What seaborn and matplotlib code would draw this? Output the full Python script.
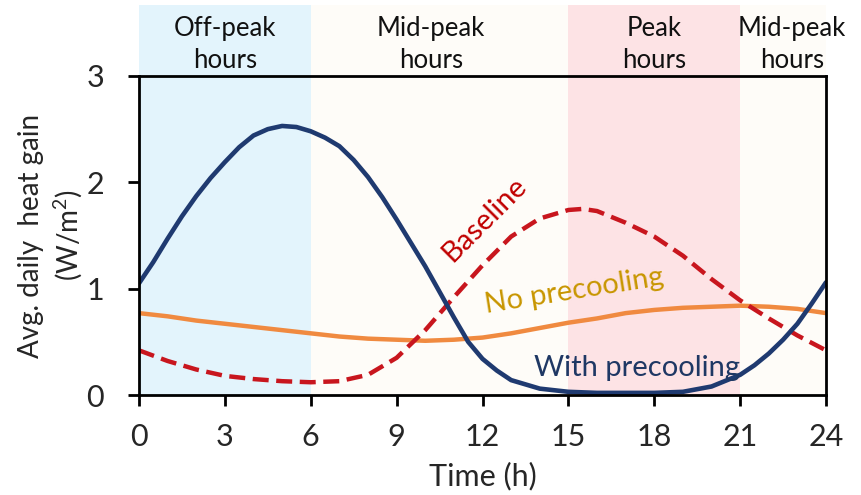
import matplotlib
matplotlib.use("Agg")
import matplotlib.pyplot as plt
import seaborn as sns
import pandas as pd

# Average heat gain (W/m2) over the day for three operating cases
precool_hours = [0, 0.5, 1, 1.5, 2, 2.5, 3, 3.5, 4, 4.5, 5, 5.5, 6, 6.5, 7, 7.5, 8, 8.5, 9, 9.5,
                 10, 10.5, 11, 11.5, 12, 12.5, 13, 14, 15, 16, 17, 18, 19, 20, 21, 21.5, 22,
                 22.5, 23, 23.5, 24]
with_precooling = [1.05, 1.25, 1.47, 1.68, 1.87, 2.04, 2.19, 2.33, 2.44, 2.50, 2.53, 2.52, 2.48,
                   2.42, 2.34, 2.21, 2.05, 1.86, 1.65, 1.43, 1.21, 0.97, 0.73, 0.50, 0.34, 0.23,
                   0.14, 0.06, 0.03, 0.02, 0.02, 0.02, 0.03, 0.08, 0.19, 0.28, 0.39, 0.52, 0.67,
                   0.86, 1.06]

baseline_hours = [0, 1, 2, 3, 4, 5, 6, 7, 8, 9, 10, 11, 12, 13, 14, 15, 15.5, 16, 17, 18, 19,
                  20, 21, 22, 23, 24]
baseline = [0.42, 0.32, 0.24, 0.18, 0.15, 0.13, 0.12, 0.13, 0.19, 0.35, 0.61, 0.92, 1.22, 1.49,
            1.66, 1.74, 1.75, 1.73, 1.62, 1.49, 1.31, 1.09, 0.89, 0.72, 0.56, 0.42]

nopre_hours = list(range(25))
no_precooling = [0.77, 0.74, 0.70, 0.67, 0.64, 0.61, 0.58, 0.55, 0.53, 0.52, 0.51, 0.52, 0.54,
                 0.58, 0.63, 0.68, 0.72, 0.77, 0.80, 0.82, 0.83, 0.84, 0.83, 0.81, 0.77]

# Tariff periods: (start, end, label)
periods = [(0, 6, "Off-peak\nhours"), (6, 15, "Mid-peak\nhours"),
           (15, 21, "Peak\nhours"), (21, 24, "Mid-peak\nhours")]
period_label_x = [3, 10.2, 18, 22.8]
period_colors = ["#E3F4FC", "#FEFCF8", "#FDE3E5", "#FEFCF8"]

x_ticks = [0, 3, 6, 9, 12, 15, 18, 21, 24]
y_ticks = [0, 1, 2, 3]

sns.set_style("ticks")
plt.rcParams["font.family"] = ["Lato", "DejaVu Sans"]
plt.rcParams["mathtext.fontset"] = "custom"
plt.rcParams["mathtext.rm"] = "Lato"

fig = plt.figure(figsize=(8.61, 4.95), dpi=100)
ax = fig.add_axes([0.1614, 0.202, 0.798, 0.6445])

# shaded tariff bands, extending above the plotting area
top_frac = 1.2226
for (s, e, _), c in zip(periods, period_colors):
    ax.axvspan(s, e, ymin=0, ymax=top_frac, color=c, clip_on=False, zorder=0, lw=0)
for (s, e, lab), lx in zip(periods, period_label_x):
    ax.text(lx, 3.30, lab, ha="center", va="center", fontsize=18.5,
            linespacing=1.35, color="#111111")

df = pd.concat([
    pd.DataFrame({"Time (h)": nopre_hours, "gain": no_precooling, "case": "No precooling"}),
    pd.DataFrame({"Time (h)": baseline_hours, "gain": baseline, "case": "Baseline"}),
    pd.DataFrame({"Time (h)": precool_hours, "gain": with_precooling, "case": "With precooling"}),
], ignore_index=True)

colors = {"No precooling": "#F08A40", "Baseline": "#C8161E", "With precooling": "#1F3A70"}
widths = {"No precooling": 3.2, "Baseline": 3.2, "With precooling": 3.3}
for z, case in enumerate(["No precooling", "Baseline", "With precooling"]):
    sns.lineplot(data=df[df.case == case], x="Time (h)", y="gain", color=colors[case],
                 lw=widths[case], ax=ax, zorder=3 + z)
    ln = ax.lines[-1]
    ln.set_solid_joinstyle("round")
    ln.set_solid_capstyle("round")
    if case == "Baseline":
        ln.set_linestyle((0, (3.6, 1.7)))
        ln.set_dash_capstyle("butt")

ax.text(12.09, 1.65, "Baseline", color="#C00000", fontsize=21, rotation=45,
        rotation_mode="anchor", ha="center", va="center", zorder=6)
ax.text(15.2, 0.98, "No precooling", color="#C89600", fontsize=21, rotation=9,
        rotation_mode="anchor", ha="center", va="center", zorder=6)
ax.text(17.4, 0.25, "With precooling", color="#1F3864", fontsize=21,
        ha="center", va="center", zorder=6)

ax.set_xlim(0, 24)
ax.set_ylim(0, 3)
ax.set_xticks(x_ticks)
ax.set_yticks(y_ticks)
ax.set_facecolor("none")
ax.tick_params(axis="both", direction="out", length=8, width=2, labelsize=22,
               color="black")
ax.tick_params(axis="x", pad=12)
ax.tick_params(axis="y", pad=17)
for sp in ax.spines.values():
    sp.set_visible(True)
    sp.set_linewidth(2)
    sp.set_color("black")
    sp.set_zorder(7)
ax.set_xlabel("Time (h)", fontsize=22, labelpad=8)
ax.set_ylabel("Avg. daily  heat gain\n(W/m$^2$)", fontsize=20, labelpad=1, linespacing=1.3)

fig.savefig("out.png", dpi=100)
